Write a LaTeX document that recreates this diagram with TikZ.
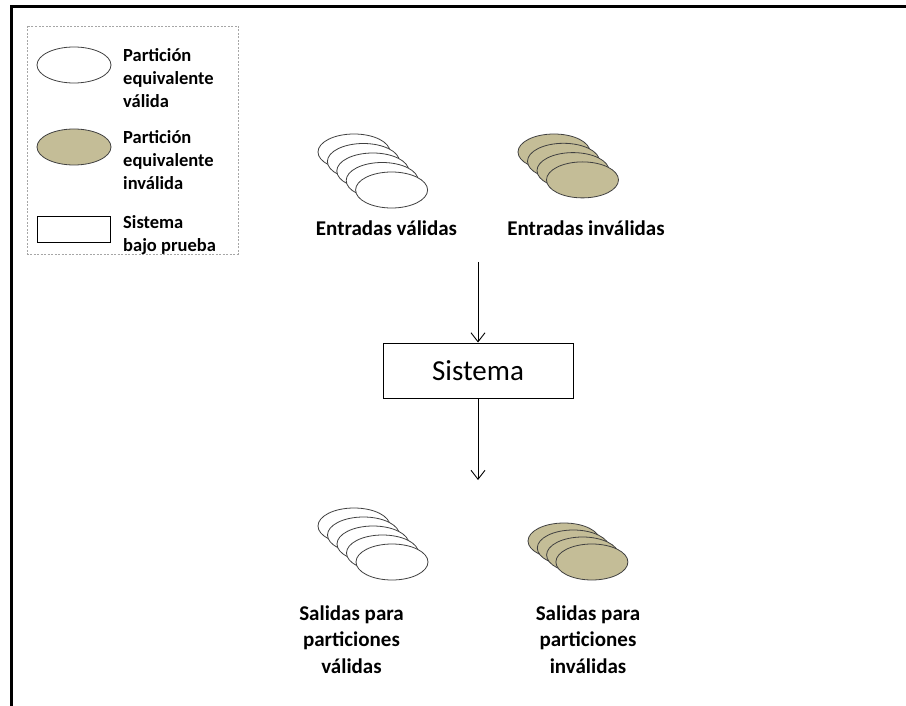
\documentclass[tikz,border=0pt]{standalone}
\usepackage{fontspec}
\setmainfont{Carlito}
\usetikzlibrary{arrows.meta, shapes.geometric, positioning}
\definecolor{tanfill}{HTML}{C4BD97}
\definecolor{rim}{HTML}{404040}
\definecolor{legendgray}{HTML}{A6A6A6}

\begin{document}
\begin{tikzpicture}[x=1pt, y=-1pt, >={Straight Barb[length=9pt, width=14pt]},
  part/.style={ellipse, draw=rim, line width=0.8pt, minimum width=72pt, minimum height=36pt, inner sep=0pt},
  valid/.style={part, fill=white},
  invalid/.style={part, fill=tanfill},
  lbl/.style={font=\bfseries\fontsize{21}{26.5}\selectfont, align=center, inner sep=0pt},
  leg/.style={font=\bfseries\fontsize{18.5}{22.8}\selectfont, align=left, anchor=north west, inner sep=0pt}]
\useasboundingbox (0,0) rectangle (906,706);
% —— marco ——
\draw[line width=3pt] (11,706) -- (11,6.5) -- (906,6.5);
% —— leyenda ——
\draw[legendgray, dashed, dash pattern=on 2pt off 1.5pt, line width=0.8pt] (27,26) rectangle (238,254);
\node[valid, minimum width=74pt] (legV) at (74,65) {};
\node[invalid, minimum width=74pt] (legI) at (74,147) {};
\node[draw, line width=1pt, minimum width=73pt, minimum height=26pt, inner sep=0pt] (legS) at (73.5,230) {};
\node[leg] (legVt) at (123,48.5) {Partición\\equivalente\\válida};
\node[leg] (legIt) at (123,130.5) {Partición\\equivalente\\inválida};
\node[leg] (legSt) at (123,215.5) {Sistema\\bajo prueba};
% —— entradas ——
\foreach \i in {0,...,4}
  \node[valid] (inV\i) at (354+9.4*\i, 152+9.5*\i) {};
\foreach \i in {0,...,3}
  \node[invalid] (inI\i) at (554+9.5*\i, 152+9.3*\i) {};
\node[lbl] (inVt) at (386.5,228.5) {Entradas válidas};
\node[lbl] (inIt) at (586,228.5) {Entradas inválidas};
% —— sistema ——
\node[draw, line width=1pt, minimum width=190pt, minimum height=55pt, font=\fontsize{29}{34}\selectfont] (sis) at (478,370.5) {Sistema};
\coordinate (feed) at (478,262);
\coordinate (drain) at (478,480);
\draw[->, line width=0.9pt] (feed) -- (sis);
\draw[->, line width=0.9pt] (sis) -- (drain);
% —— salidas ——
\foreach \i in {0,...,4}
  \node[valid] (outV\i) at (354+9.5*\i, 526+9*\i) {};
\foreach \i in {0,...,3}
  \node[invalid] (outI\i) at (564+9.3*\i, 541+7*\i) {};
\node[lbl] (outVt) at (351.5,639.5) {Salidas para\\particiones\\válidas};
\node[lbl] (outIt) at (588,639.5) {Salidas para\\particiones\\inválidas};
\end{tikzpicture}
\end{document}
